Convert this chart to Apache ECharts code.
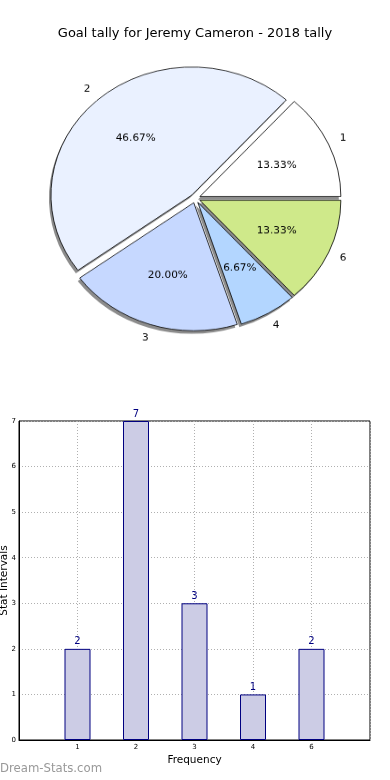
<!DOCTYPE html>
<html>
<head>
<meta charset="utf-8">
<script src="https://cdn.jsdelivr.net/npm/echarts@6/dist/echarts.min.js"></script>
<style>
  html, body { margin: 0; padding: 0; background: #fff; }
  #main { position: absolute; left: 0; top: 0; width: 390px; height: 780px; }
  #pie { position: absolute; left: 0; top: 0; width: 390px; height: 420px;
         transform: scaleY(0.908); transform-origin: 0 0; }
</style>
</head>
<body>
<div id="main"></div>
<div id="pie"></div>
<script>
// ---- data ----
const titleText = 'Goal tally for Jeremy Cameron - 2018 tally';
const pieNames = ['1', '2', '3', '4', '6'];
const pieValues = [2, 7, 3, 1, 2];
const pieColors = ['#ffffff', '#eaf1ff', '#c6d8ff', '#b3d6ff', '#cfe98a'];
const barCategories = ['1', '2', '3', '4', '6'];
const barValues = [2, 7, 3, 1, 2];
const yTicks = [0, 1, 2, 3, 4, 5, 6, 7];

const FONT = 'DejaVu Sans';

// ---- bar chart + title ----
const main = echarts.init(document.getElementById('main'), null, { renderer: 'canvas' });
const xCats = [''].concat(barCategories, ['']);
const xVals = [null].concat(barValues, [null]);
main.setOption({
  animation: false,
  title: {
    text: titleText, left: 'center', top: 22,
    textStyle: { fontFamily: FONT, fontSize: 13, fontWeight: 'normal', color: '#000' }
  },
  grid: { left: 19, right: 20, top: 421, bottom: 40, show: true, borderColor: '#000', borderWidth: 1,
    containLabel: false, outerBoundsMode: 'none' },
  xAxis: {
    type: 'category', data: xCats, boundaryGap: false,
    name: 'Frequency', nameLocation: 'middle', nameGap: 15, nameMoveOverlap: false,
    nameTextStyle: { fontFamily: FONT, fontSize: 10.5, color: '#000' },
    axisLine: { lineStyle: { color: '#000' } },
    axisTick: { show: false },
    axisLabel: { fontFamily: FONT, fontSize: 7, color: '#000', margin: 4 },
    splitLine: { show: true, lineStyle: { color: '#b0b0b0', type: [1, 2], width: 1 } }
  },
  yAxis: {
    type: 'value', min: yTicks[0], max: yTicks[yTicks.length - 1], interval: 1,
    name: 'Stat Intervals', nameLocation: 'middle', nameGap: 9, nameRotate: 90, nameMoveOverlap: false,
    nameTextStyle: { fontFamily: FONT, fontSize: 10.5, color: '#000' },
    axisLine: { show: true, lineStyle: { color: '#000' } },
    axisTick: { show: false },
    axisLabel: { fontFamily: FONT, fontSize: 7, color: '#000', margin: 3 },
    splitLine: { show: true, lineStyle: { color: '#b0b0b0', type: [1, 2], width: 1 } }
  },
  series: [{
    type: 'bar', data: xVals, barWidth: 26,
    itemStyle: { color: '#cccce5', borderColor: '#000080', borderWidth: 1 },
    label: { show: true, position: 'top', distance: 2, color: '#000080', fontFamily: FONT, fontSize: 10 }
  }],
  graphic: [{
    type: 'text', left: 0, top: 763,
    style: { text: 'Dream-Stats.com', fontFamily: FONT, fontSize: 11.7, fontWeight: 'normal', fill: '#999999' }
  }]
});

// ---- pie (drawn in a vertically squeezed layer, as in the original) ----
const pie = echarts.init(document.getElementById('pie'), null, { renderer: 'canvas' });
const R = 141;
const SY = 0.908;
const CX = 195.3, CY = 198.4 / SY;
const OFF = 5;
function pieData(extra) {
  return pieNames.map((n, i) => Object.assign({
    name: n, value: pieValues[i], selected: true,
    itemStyle: { color: pieColors[i] }
  }, extra ? extra(i) : {}));
}
const common = {
  type: 'pie', center: [CX, CY], startAngle: 0, clockwise: false,
  selectedMode: 'multiple', selectedOffset: OFF, avoidLabelOverlap: false,
  emphasis: { disabled: true }, labelLine: { show: false }
};
pie.setOption({
  animation: false,
  series: [
    // shadow layer
    Object.assign({}, common, {
      center: [CX - 2, CY + 3 / SY],
      radius: [0, R],
      silent: true,
      data: pieData(() => ({ itemStyle: { color: 'rgba(0,0,0,0.45)', borderWidth: 0 } })),
      label: { show: false }
    }),
    Object.assign({}, common, {
      radius: [0, R],
      data: pieData(),
      label: { show: false },
      itemStyle: { borderColor: '#000', borderWidth: 0.8 }
    }),
    Object.assign({}, common, {
      radius: [0.15 * R, R],
      silent: true,
      data: pieData(() => ({ itemStyle: { color: 'rgba(0,0,0,0)', borderWidth: 0 } })),
      label: { show: true, position: 'inside', fontFamily: FONT, fontSize: 10.5, color: '#000',
        formatter: p => p.percent.toFixed(2) + '%' }
    }),
    Object.assign({}, common, {
      radius: [R, 1.18 * R],
      silent: true,
      data: pieData(() => ({ itemStyle: { color: 'rgba(0,0,0,0)', borderWidth: 0 } })),
      label: { show: true, position: 'inside', fontFamily: FONT, fontSize: 10.5, color: '#000',
        formatter: p => p.name }
    })
  ]
});
</script>
</body>
</html>
